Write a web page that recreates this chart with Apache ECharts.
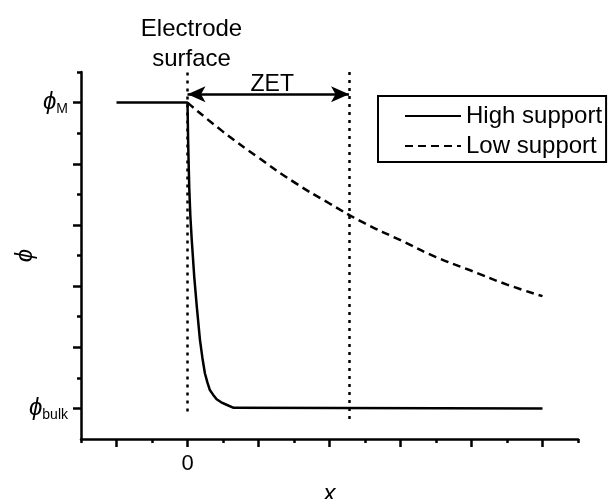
<!DOCTYPE html>
<html>
<head>
<meta charset="utf-8">
<script src="https://cdn.jsdelivr.net/npm/echarts@6/dist/echarts.min.js"></script>
<style>html,body{margin:0;padding:0;background:#fff}#c{width:608px;height:499px}</style>
</head>
<body>
<div id="c"></div>
<script>
// ---- data ----
const seriesNames = ['High support', 'Low support'];
const highX = [-2, 0, 0.02, 0.05, 0.08, 0.12, 0.19, 0.26, 0.35, 0.42, 0.49, 0.56, 0.63, 0.72, 0.82, 0.95, 1.1, 1.3, 10];
const highY = [11, 11, 9.6, 8.2, 7.3, 6.5, 5.3, 4.35, 3.25, 2.65, 2.15, 1.85, 1.6, 1.45, 1.3, 1.2, 1.12, 1.02, 1];
const lowX = [0, 1, 2, 3, 4, 5, 6, 7, 8, 9, 10];
const lowY = [11, 10.05, 9.2, 8.4, 7.7, 7.05, 6.5, 5.95, 5.5, 5.05, 4.67];
const xMajorTicks = [-2, 0, 2, 4, 6, 8, 10];
const xMinorTicks = [-3, -1, 1, 3, 5, 7, 9, 11];
const yMajorTicks = [1, 3, 5, 7, 9, 11];
const yMinorTicks = [2, 4, 6, 8, 10, 12];
const xTickLabels = [0];
const yTickLabels = {1: '{p|ϕ}{s|bulk}', 11: '{p|ϕ}{s|M}'};
const surfaceLine = [[0, 0.9], [0, 12]];
const zetLine = [[4.55, 0.65], [4.55, 12]];
const zetArrow = [[0, 11.27], [4.55, 11.27]];
const surfaceText = 'Electrode\nsurface';
const zetText = 'ZET';

const FONT = 'Liberation Sans, Arial, sans-serif';
const black = '#000';
const chart = echarts.init(document.getElementById('c'), null, {renderer: 'canvas'});
const axisBase = (dimMin, dimMax) => ({type: 'value', min: dimMin, max: dimMax, splitLine: {show: false}});
const dotted = [3, 5];

const option = {
  animation: false,
  backgroundColor: '#fff',
  textStyle: {fontFamily: FONT, color: black},
  grid: {left: 81, right: 30, top: 72, bottom: 60, containLabel: false, outerBoundsMode: 'none'},
  legend: {
    data: seriesNames, orient: 'vertical', left: 378, top: 96,
    itemWidth: 56, itemHeight: 14, itemGap: 6,
    padding: [8, 4, 4, 26],
    borderColor: black, borderWidth: 2, borderRadius: 0,
    itemStyle: {color: 'rgba(0,0,0,0)', borderWidth: 0, opacity: 0},
    textStyle: {fontSize: 24, color: black, fontFamily: FONT, lineHeight: 24}
  },
  xAxis: [
    Object.assign(axisBase(-3, 11), {
      position: 'bottom', name: 'x', nameLocation: 'middle', nameGap: 43, nameMoveOverlap: false,
      nameTextStyle: {fontSize: 24, fontStyle: 'italic', color: black, fontFamily: FONT},
      axisLine: {onZero: false, lineStyle: {color: black, width: 2.5}},
      axisTick: {customValues: xMajorTicks, length: 8, lineStyle: {color: black, width: 2.5}},
      axisLabel: {customValues: xTickLabels, margin: 14, fontSize: 22, color: black, fontFamily: FONT}
    }),
    Object.assign(axisBase(-3, 11), {
      position: 'bottom',
      axisLine: {show: false, onZero: false},
      axisTick: {customValues: xMinorTicks, length: 4, lineStyle: {color: black, width: 2.5}},
      axisLabel: {show: false}
    })
  ],
  yAxis: [
    Object.assign(axisBase(0, 12), {
      position: 'left', name: 'ϕ', nameLocation: 'middle', nameGap: 44, nameMoveOverlap: false,
      nameTextStyle: {fontSize: 24, fontStyle: 'italic', color: black, fontFamily: FONT},
      axisLine: {onZero: false, lineStyle: {color: black, width: 2.5}},
      axisTick: {customValues: yMajorTicks, length: 8, lineStyle: {color: black, width: 2.5}},
      axisLabel: {
        customValues: [1, 11], margin: 13,
        formatter: v => yTickLabels[v] || '',
        rich: {
          p: {fontSize: 24, fontStyle: 'italic', color: black, fontFamily: FONT, lineHeight: 26},
          s: {fontSize: 14, color: black, fontFamily: FONT, lineHeight: 26, padding: [14, 0, 0, 0]}
        }
      }
    }),
    Object.assign(axisBase(0, 12), {
      position: 'left',
      axisLine: {show: false, onZero: false},
      axisTick: {customValues: yMinorTicks, length: 4, lineStyle: {color: black, width: 2.5}},
      axisLabel: {show: false}
    })
  ],
  series: [
    {
      name: seriesNames[0], type: 'line', symbol: 'none', smooth: false,
      data: highX.map((x, i) => [x, highY[i]]),
      lineStyle: {color: black, width: 2.5}, itemStyle: {color: black},
      markLine: {
        silent: true, symbol: 'none',
        lineStyle: {color: black, width: 2.5, type: dotted},
        label: {show: false},
        data: [
          [{coord: surfaceLine[0]}, {coord: surfaceLine[1],
            label: {show: true, position: 'end', formatter: surfaceText, fontSize: 24, lineHeight: 30, color: black, fontFamily: FONT, distance: -2, offset: [4, 0]}}],
          [{coord: zetLine[0]}, {coord: zetLine[1]}]
        ]
      }
    },
    {
      name: seriesNames[1], type: 'line', symbol: 'none', smooth: true,
      data: lowX.map((x, i) => [x, lowY[i]]),
      lineStyle: {color: black, width: 2.5, type: [8, 5]}, itemStyle: {color: black},
      markLine: {
        silent: true, symbol: ['arrow', 'arrow'], symbolSize: [12, 18],
        lineStyle: {color: black, width: 2.5, type: 'solid'},
        label: {show: true, position: 'insideMiddleTop', formatter: zetText, fontSize: 23, color: black, fontFamily: FONT, distance: -2, offset: [4, 0]},
        data: [[{coord: zetArrow[0]}, {coord: zetArrow[1]}]]
      }
    }
  ]
};
chart.setOption(option);
</script>
</body>
</html>
